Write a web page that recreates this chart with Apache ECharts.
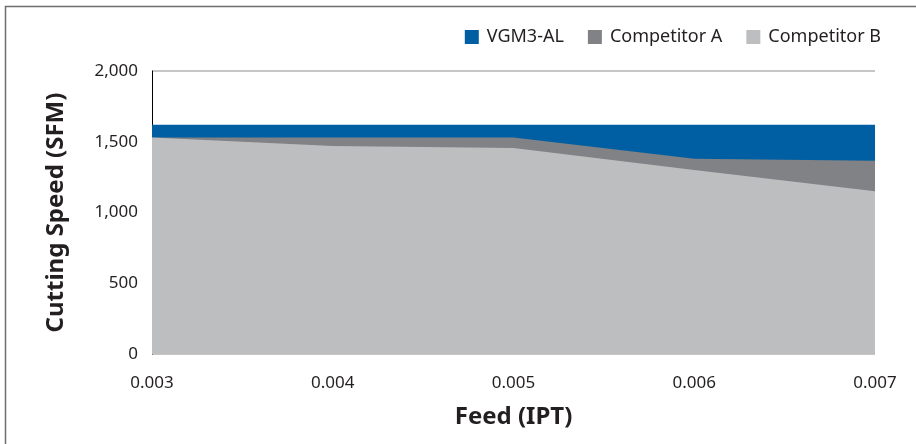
<!DOCTYPE html>
<html>
<head>
<meta charset="utf-8">
<script src="https://cdn.jsdelivr.net/npm/echarts@6/dist/echarts.min.js"></script>
<style>
	html, body { margin: 0; padding: 0; background: #fff; }
	#chart { width: 916px; height: 444px; }
</style>
</head>
<body>
<div id="chart"></div>
<script>
// feed values (IPT)
var feeds = ['0.003', '0.004', '0.005', '0.006', '0.007'];
// cutting speed (SFM) per tool
var vgm3 = [1620, 1620, 1620, 1620, 1620];
var compA = [1530, 1530, 1530, 1380, 1365];
var compB = [1530, 1470, 1455, 1300, 1150];
var yTicks = [0, 500, 1000, 1500, 2000];

var textColor = '#231f20';
var fontName = 'Noto Sans';

var myChart = echarts.init(document.getElementById('chart'));

function areaSeries(name, data, color) {
	return {
		name: name,
		type: 'line',
		data: data,
		symbol: 'none',
		lineStyle: { width: 0 },
		areaStyle: { color: color, opacity: 1 },
		itemStyle: { color: color },
		animation: false
	};
}

var option = {
	backgroundColor: '#fff',
	textStyle: { fontFamily: fontName },
	graphic: [{
		type: 'rect',
		shape: { x: 5.5, y: 6.5, width: 930, height: 460 },
		style: { fill: 'none', stroke: '#6d6e71', lineWidth: 1.5 },
		silent: true
	}],
	legend: {
		top: 23,
		right: 30,
		itemWidth: 14,
		itemHeight: 14,
		itemGap: 24,
		icon: 'rect',
		textStyle: { color: textColor, fontSize: 18, fontFamily: fontName, padding: [0, 0, 0, 3] },
		data: ['VGM3-AL', 'Competitor A', 'Competitor B']
	},
	grid: { left: 152, right: 41, top: 71, bottom: 90 },
	xAxis: {
		type: 'category',
		data: feeds,
		boundaryGap: false,
		name: 'Feed (IPT)',
		nameLocation: 'middle',
		nameGap: 51,
		nameTextStyle: { color: textColor, fontSize: 24, fontWeight: 'bold' },
		axisLine: { show: false },
		axisTick: { show: false },
		axisLabel: { color: textColor, fontSize: 17, margin: 21 }
	},
	yAxis: {
		type: 'value',
		min: yTicks[0],
		max: yTicks[yTicks.length - 1],
		interval: 500,
		name: 'Cutting Speed (SFM)',
		nameLocation: 'middle',
		nameGap: 84,
		nameTextStyle: { color: textColor, fontSize: 24, fontWeight: 'bold' },
		axisLine: { show: true, lineStyle: { color: '#000', width: 1 } },
		axisTick: { show: false },
		splitLine: { show: true, lineStyle: { color: '#b3b3b3', width: 1.5 } },
		axisLabel: {
			color: textColor,
			fontSize: 17,
			margin: 14,
			formatter: function (v) { return v.toLocaleString('en-US'); }
		}
	},
	series: [
		areaSeries('VGM3-AL', vgm3, '#005fa3'),
		areaSeries('Competitor A', compA, '#808285'),
		areaSeries('Competitor B', compB, '#bcbec0')
	]
};
myChart.setOption(option);
</script>
</body>
</html>
